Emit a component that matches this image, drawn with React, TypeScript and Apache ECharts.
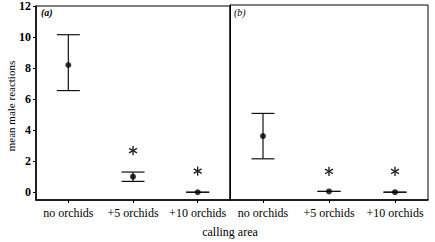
import React, { useEffect, useRef } from "react";
import * as echarts from "echarts";

const categories = ["no orchids", "+5 orchids", "+10 orchids"];
const meansA = [8.2, 1.0, 0.0];
const lowA = [6.55, 0.7, 0.0];
const highA = [10.15, 1.3, 0.0];
const starsA = [null, 2.68, 1.36];
const meansB = [3.6, 0.05, 0.0];
const lowB = [2.14, 0.05, 0.0];
const highB = [5.05, 0.05, 0.0];
const starsB = [null, 1.33, 1.33];
const yTicks = [0, 2, 4, 6, 8, 10, 12];

const FONT = "'Liberation Serif', 'Times New Roman', 'DejaVu Serif', serif";

function errData(low: number[], high: number[]) {
  return low.map((l, i) => [i, l, high[i]]);
}

function renderErr(params: any, api: any) {
  const x = api.value(0);
  const lo = api.coord([x, api.value(1)]);
  const hi = api.coord([x, api.value(2)]);
  const hw = 11.5;
  const style = { stroke: "#111", lineWidth: 1.2 };
  return {
    type: "group",
    children: [
      { type: "line", shape: { x1: lo[0], y1: lo[1], x2: hi[0], y2: hi[1] }, style },
      { type: "line", shape: { x1: lo[0] - hw, y1: lo[1], x2: lo[0] + hw, y2: lo[1] }, style },
      { type: "line", shape: { x1: hi[0] - hw, y1: hi[1], x2: hi[0] + hw, y2: hi[1] }, style },
    ],
  };
}

function renderStar(params: any, api: any) {
  const p = api.coord([api.value(0), api.value(1)]);
  const r = 4.6;
  const style = { stroke: "#222", lineWidth: 1.4 };
  const angles = [90, 30, 150];
  return {
    type: "group",
    children: angles.map((a) => {
      const rad = (a * Math.PI) / 180;
      const dx = r * Math.cos(rad);
      const dy = r * Math.sin(rad);
      return {
        type: "line",
        shape: { x1: p[0] - dx, y1: p[1] - dy, x2: p[0] + dx, y2: p[1] + dy },
        style,
      };
    }),
  };
}

function starData(stars: (number | null)[]) {
  return stars.map((s, i) => (s === null ? null : [i, s])).filter((d) => d !== null);
}

export default function App() {
  const ref = useRef<HTMLDivElement>(null);
  useEffect(() => {
    const chart = echarts.init(ref.current!, null, { renderer: "svg" });
    const xAxisCommon = (gridIndex: number) => ({
      type: "category",
      gridIndex,
      data: categories,
      boundaryGap: true,
      axisLine: { show: true, onZero: false, lineStyle: { color: "#000", width: 1.5 } },
      axisTick: { show: true, alignWithLabel: true, length: 3, lineStyle: { color: "#000" } },
      axisLabel: { color: "#000", fontFamily: FONT, fontSize: 12, margin: 7, interval: 0 },
      splitLine: { show: false },
    });
    const yAxisCommon = (gridIndex: number, showLabels: boolean) => ({
      type: "value",
      gridIndex,
      min: -0.5,
      max: 12,
      axisLine: { show: true, onZero: false, lineStyle: { color: "#000", width: showLabels ? 1.5 : 1 } },
      axisTick: {
        show: showLabels,
        length: 3,
        customValues: yTicks,
        lineStyle: { color: "#000" },
      },
      axisLabel: {
        show: showLabels,
        customValues: yTicks,
        color: "#000",
        fontFamily: FONT,
        fontSize: 12,
        fontWeight: "bold",
        margin: 5,
      },
      splitLine: { show: false },
    });
    chart.setOption({
      animation: false,
      grid: [
        { left: 36, right: 205, top: 5, bottom: 42, show: true, borderColor: "#000", borderWidth: 1 },
        { left: 230, right: 7, top: 5, bottom: 42, show: true, borderColor: "#000", borderWidth: 1 },
      ],
      xAxis: [xAxisCommon(0), xAxisCommon(1)],
      yAxis: [yAxisCommon(0, true), yAxisCommon(1, false)],
      graphic: [
        { type: "text", left: 41, top: 7, style: { text: "(a)", font: `italic bold 10px ${FONT}`, fill: "#000" } },
        { type: "text", left: 234, top: 7, style: { text: "(b)", font: `italic 10px ${FONT}`, fill: "#000" } },
        { type: "text", x: 230, y: 226, style: { text: "calling area", font: `12px ${FONT}`, fill: "#000", textAlign: "center" } },
        {
          type: "text",
          x: 11,
          y: 106,
          rotation: Math.PI / 2,
          style: { text: "mean male reactions", font: `11px ${FONT}`, fill: "#000", textAlign: "center", textVerticalAlign: "middle" },
        },
      ],
      series: [
        { type: "custom", xAxisIndex: 0, yAxisIndex: 0, renderItem: renderErr, data: errData(lowA, highA), z: 2, itemStyle: { color: "#000" } },
        { type: "custom", xAxisIndex: 1, yAxisIndex: 1, renderItem: renderErr, data: errData(lowB, highB), z: 2, itemStyle: { color: "#000" } },
        {
          type: "scatter",
          xAxisIndex: 0,
          yAxisIndex: 0,
          symbol: "circle",
          symbolSize: 6,
          itemStyle: { color: "#000" },
          data: meansA.map((v, i) => [i, v]),
          z: 3,
        },
        {
          type: "scatter",
          xAxisIndex: 1,
          yAxisIndex: 1,
          symbol: "circle",
          symbolSize: 6,
          itemStyle: { color: "#000" },
          data: meansB.map((v, i) => [i, v]),
          z: 3,
        },
        { type: "custom", xAxisIndex: 0, yAxisIndex: 0, renderItem: renderStar, data: starData(starsA), itemStyle: { color: "#222" } },
        { type: "custom", xAxisIndex: 1, yAxisIndex: 1, renderItem: renderStar, data: starData(starsB), itemStyle: { color: "#222" } },
      ],
    });
    return () => chart.dispose();
  }, []);
  return <div ref={ref} style={{ width: 435, height: 242, position: "absolute", left: 0, top: 0 }} />;
}
